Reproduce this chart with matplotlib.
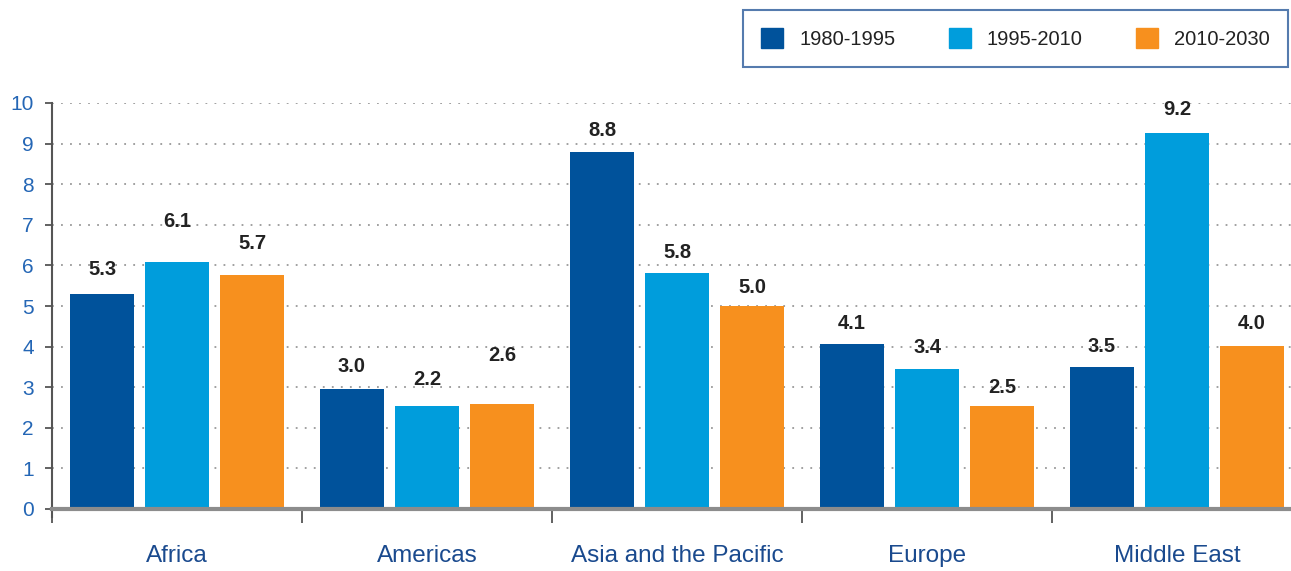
import matplotlib
matplotlib.use("Agg")
import matplotlib.pyplot as plt
from matplotlib.patches import Patch
import numpy as np

plt.rcParams['font.family'] = ['Liberation Sans', 'DejaVu Sans']

categories = ["Africa", "Americas", "Asia and the Pacific", "Europe", "Middle East"]
series_names = ["1980-1995", "1995-2010", "2010-2030"]
# bar heights as drawn
values_1980_1995 = [5.30, 2.96, 8.79, 4.06, 3.50]
values_1995_2010 = [6.08, 2.54, 5.81, 3.45, 9.27]
values_2010_2030 = [5.76, 2.59, 5.00, 2.54, 4.01]
# printed value labels
labels_1980_1995 = ["5.3", "3.0", "8.8", "4.1", "3.5"]
labels_1995_2010 = ["6.1", "2.2", "5.8", "3.4", "9.2"]
labels_2010_2030 = ["5.7", "2.6", "5.0", "2.5", "4.0"]
# vertical positions of the printed labels (data units)
label_y_1980_1995 = [5.89, 3.50, 9.33, 4.58, 4.01]
label_y_1995_2010 = [7.07, 3.18, 6.31, 3.97, 9.83]
label_y_2010_2030 = [6.53, 3.79, 5.45, 3.00, 4.58]

colors = ["#00529b", "#009ddc", "#f7901e"]

fig = plt.figure(figsize=(12.91, 5.71), dpi=100)
ax = fig.add_axes([52/1291, 1-509/571, 1-52/1291, (509-103)/571])

x = np.arange(len(categories)) + 0.5
offsets = [-0.3, 0.0, 0.3]
width = 0.256
series = [values_1980_1995, values_1995_2010, values_2010_2030]
labels = [labels_1980_1995, labels_1995_2010, labels_2010_2030]
label_ys = [label_y_1980_1995, label_y_1995_2010, label_y_2010_2030]

for k in range(3):
    ax.bar(x + offsets[k], series[k], width=width, color=colors[k], zorder=3)
    for xi, lab, ly in zip(x + offsets[k], labels[k], label_ys[k]):
        ax.text(xi, ly, lab, ha='center', va='center', fontsize=14.5,
                color='#222222', fontweight='bold', zorder=4)

ax.set_xlim(0, 1239/250)
ax.set_ylim(0, 10)

for yv in range(1, 11):
    ax.axhline(yv, color='#999999', lw=1.3, ls=(0, (1, 4)), zorder=1)

for s in ['top', 'right']:
    ax.spines[s].set_visible(False)
ax.spines['left'].set_color('#555555')
ax.spines['left'].set_linewidth(1.5)
ax.spines['left'].set_bounds(-0.2, 10)
ax.spines['bottom'].set_color('#8c8c8c')
ax.spines['bottom'].set_linewidth(3)
ax.spines['bottom'].set_zorder(5)

ax.set_yticks(range(0, 11))
ax.tick_params(axis='y', length=5, width=1.3, color='#555555', labelsize=15,
               labelcolor='#2466b5', pad=8)

ax.set_xticks(x)
ax.set_xticklabels(categories)
ax.tick_params(axis='x', which='major', length=0, pad=26, labelsize=17.5,
               labelcolor='#1a4a8e')
ax.set_xticks(np.arange(0, 5), minor=True)
ax.tick_params(axis='x', which='minor', length=10, width=1.3, color='#555555',
               direction='out')

handles = [Patch(facecolor=c, edgecolor=c) for c in colors]
leg = fig.legend(handles, series_names, ncol=3, loc='lower left',
                 bbox_to_anchor=(743/1291, 1-67/571, 545/1291, 59/571),
                 mode='expand', fontsize=14.5, frameon=True, fancybox=False,
                 handlelength=1.1, handleheight=1.1, handletextpad=0.8,
                 borderpad=0.9, borderaxespad=0, columnspacing=2.0)
leg.get_frame().set_edgecolor('#2a5a9a')
leg.get_frame().set_linewidth(1.5)
for t in leg.get_texts():
    t.set_color('#222222')

fig.savefig("out.png", dpi=100)
